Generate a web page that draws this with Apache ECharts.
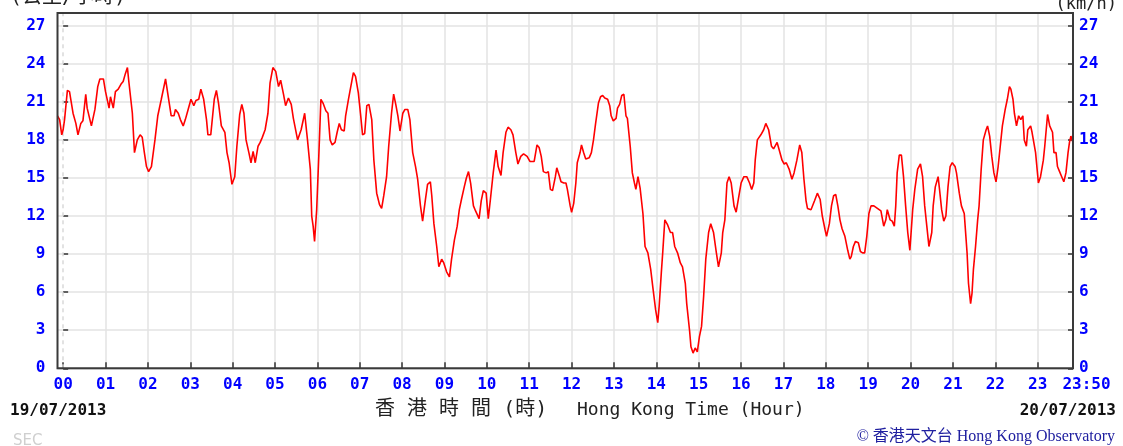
<!DOCTYPE html>
<html>
<head>
<meta charset="utf-8">
<script src="https://cdn.jsdelivr.net/npm/echarts@6/dist/echarts.min.js"></script>
<style>
html,body{margin:0;padding:0;background:#fff;}
#chart{width:1123px;height:446px;}
</style>
</head>
<body>
<div id="chart"></div>
<script>
// Hour tick labels of the x axis and the end label
const tickLabels = ['00','01','02','03','04','05','06','07','08','09','10','11','12','13','14','15','16','17','18','19','20','21','22','23'];
const endLabel = '23:50';
// Time of each reading, minutes after 00:00 (negative = before midnight)
const times = [
  -8,-5,-2,0,2,6,9,14,18,21,25,28,32,34,40,45,49,52,57,
  60,65,67,71,74,78,82,85,88,91,93,98,101,105,109,112,115,118,
  121,125,130,134,139,145,148,153,157,159,163,166,170,173,177,
  181,185,188,192,195,199,203,205,209,214,217,220,224,229,232,235,239,
  243,246,250,253,256,259,263,266,269,272,276,279,282,286,290,293,297,
  301,305,308,312,315,319,323,326,332,337,342,346,350,352,354,356,359,
  362,365,368,372,375,378,381,385,388,391,394,398,400,404,407,411,414,418,
  421,424,427,430,433,437,440,444,448,451,454,458,461,465,468,471,474,477,
  481,484,488,491,495,499,502,506,509,513,516,520,522,525,529,532,536,539,
  543,547,550,554,558,561,564,568,571,574,577,581,584,589,592,595,599,
  602,605,609,613,616,620,623,627,630,634,637,641,644,648,652,657,
  661,667,671,674,677,680,684,687,690,693,697,699,703,705,709,712,714,718,
  720,723,726,728,732,734,737,740,745,748,751,754,758,761,764,767,771,774,776,779,
  783,785,788,791,794,797,799,803,806,809,811,814,817,821,824,828,832,835,839,
  842,844,847,849,852,856,860,863,866,870,874,877,881,883,887,889,892,895,898,
  901,904,907,910,914,917,921,925,928,932,934,937,940,943,946,950,953,956,
  960,964,968,972,975,978,980,983,988,992,995,999,1003,1006,1011,1014,1018,
  1021,1024,1028,1032,1035,1039,1043,1046,1049,1052,1054,1059,1061,1064,1068,1072,1075,1079,
  1081,1085,1088,1091,1094,1097,1100,1103,1107,1111,1114,1116,1119,1122,1126,1129,1132,1135,1138,
  1141,1144,1148,1153,1158,1162,1165,1167,1171,1174,1177,1179,1181,1184,1187,1190,1193,1196,1199,
  1203,1206,1210,1214,1217,1220,1223,1226,1230,1232,1235,1239,1241,1244,1247,1250,1253,1256,1259,
  1263,1265,1269,1272,1276,1280,1282,1285,1287,1289,1292,1295,1297,1300,1303,1307,1309,1312,1315,1318,
  1321,1324,1327,1330,1334,1337,1340,1342,1345,1347,1350,1353,1356,1359,1361,1364,1366,1370,1372,1377,
  1381,1384,1388,1390,1394,1397,1401,1403,1406,1408,1411,1414,1417,1420,1423,1425,1427,1430
];
// Wind speed (km/h) at each reading
const speeds = [
  19.9,19.6,18.4,18.8,19.6,21.9,21.8,20.1,19.3,18.4,19.3,19.5,21.6,20.5,19.1,20.4,22.2,22.8,22.8,
  21.8,20.5,21.4,20.5,21.8,22.0,22.4,22.6,23.2,23.7,22.6,20.1,17.0,18.0,18.4,18.2,17.0,15.9,
  15.5,15.9,18.0,19.9,21.2,22.8,21.7,19.9,19.9,20.4,20.1,19.6,19.1,19.6,20.4,
  21.2,20.7,21.1,21.2,22.0,21.2,19.6,18.4,18.4,21.2,21.9,20.9,19.1,18.6,17.0,16.2,14.5,
  15.1,17.5,20.0,20.8,20.1,18.0,17.0,16.2,17.1,16.2,17.5,17.8,18.2,18.8,20.1,22.5,23.7,
  23.4,22.2,22.7,21.6,20.7,21.3,20.8,19.7,18.0,18.8,20.1,18.0,15.7,12.0,11.2,10.0,12.5,
  16.7,21.2,20.9,20.3,20.1,18.0,17.6,17.8,18.6,19.3,18.8,18.7,19.9,21.2,22.1,23.3,23.0,21.7,
  20.1,18.4,18.5,20.7,20.8,19.6,16.4,13.8,12.9,12.6,13.6,15.1,17.5,20.1,21.6,20.8,19.9,18.7,
  20.1,20.4,20.4,19.6,17.0,15.9,14.9,12.8,11.6,13.3,14.5,14.7,13.6,11.4,9.6,8.0,8.6,8.3,
  7.6,7.2,8.6,10.1,11.2,12.5,13.3,14.3,15.0,15.5,14.6,12.8,12.4,11.8,13.2,14.0,13.8,
  11.8,13.3,15.4,17.2,15.9,15.2,17.0,18.6,19.0,18.8,18.4,17.0,16.1,16.7,16.9,16.7,
  16.3,16.3,17.6,17.4,16.7,15.5,15.4,15.5,14.1,14.0,15.1,15.8,15.1,14.7,14.6,14.6,14.1,12.8,
  12.3,13.0,14.6,16.2,17.0,17.6,17.0,16.5,16.6,17.0,18.0,19.3,20.9,21.4,21.5,21.3,21.2,20.7,19.9,19.5,
  19.7,20.5,20.8,21.5,21.6,19.9,19.7,17.5,15.4,14.6,14.1,15.1,14.2,12.2,9.6,9.1,7.8,6.4,4.6,
  3.6,4.9,7.5,9.1,11.7,11.3,10.7,10.7,9.6,9.1,8.3,8.0,6.7,5.1,3.0,1.7,1.2,1.6,1.3,
  2.5,3.3,5.7,8.6,10.7,11.4,10.7,9.1,8.0,9.1,10.7,11.7,14.6,15.1,14.6,12.8,12.3,13.3,
  14.6,15.1,15.1,14.6,14.1,14.6,16.4,18.0,18.4,18.8,19.3,18.8,17.5,17.3,17.8,17.2,16.4,
  16.1,16.2,15.7,14.9,15.4,16.4,17.6,17.0,14.9,13.2,12.6,12.5,12.4,13.2,13.8,13.3,12.0,10.9,
  10.4,11.4,12.8,13.6,13.7,12.8,11.7,11.0,10.4,9.3,8.6,8.8,9.6,10.0,9.9,9.2,9.1,9.1,10.4,
  12.2,12.8,12.8,12.6,12.4,11.2,11.7,12.5,11.7,11.6,11.2,12.8,15.4,16.8,16.8,15.1,12.8,10.7,9.3,
  12.5,14.1,15.7,16.1,15.1,12.8,11.2,9.6,10.7,12.8,14.3,15.1,14.1,12.5,11.6,12.0,14.3,15.9,16.2,
  15.9,15.4,13.8,12.8,12.2,9.1,6.7,5.1,5.9,7.8,9.6,11.7,12.8,15.7,18.0,18.8,19.1,18.3,16.7,15.4,
  14.7,15.9,17.5,19.1,20.4,21.2,22.2,22.0,21.2,20.1,19.1,19.9,19.6,19.9,18.0,17.5,18.8,19.1,18.6,17.0,
  14.6,15.1,16.4,17.5,20.0,19.1,18.6,17.0,17.0,15.9,15.5,15.1,14.7,15.4,17.0,17.8,18.3,17.8
];
if (times.length !== speeds.length) console.error('length mismatch', times.length, speeds.length);

const xStart = -8, xEnd = 1430;
const minuteCats = [];
for (let m = xStart; m <= xEnd; m++) minuteCats.push(String(m));

const chart = echarts.init(document.getElementById('chart'), null, {renderer: 'canvas'});
const labelFont = {color: '#0000ff', fontFamily: '"DejaVu Sans Mono", monospace', fontWeight: 'bold'};
const dashStyle = {type: [4, 4], color: '#d9d9d9', width: 1.5};

chart.setOption({
  animation: false,
  backgroundColor: '#fff',
  grid: {left: 57.5, right: 50, top: 13, bottom: 77.7, show: true, borderColor: '#3a3a3a', borderWidth: 2, backgroundColor: 'transparent', z: 5},
  xAxis: [
    {
      type: 'category', data: minuteCats, boundaryGap: false,
      axisLine: {show: false},
      axisTick: {show: true, inside: true, length: 6, interval: (i, v) => (+v) % 60 === 0, lineStyle: {color: '#333', width: 1.5}},
      axisLabel: Object.assign({}, labelFont, {
        fontSize: 16, margin: 9,
        interval: (i, v) => (+v) % 60 === 0 || +v === xEnd,
        formatter: (v) => (+v === xEnd ? '{e|' + endLabel + '}' : tickLabels[(+v) / 60]),
        rich: {e: Object.assign({}, labelFont, {fontSize: 16, padding: [0, 0, 0, 27]})}
      }),
      splitLine: {show: true, interval: (i, v) => (+v) % 60 === 0 && +v !== 0, lineStyle: {color: '#e3e3e3', width: 1.5}}
    },
    {type: 'value', min: xStart, max: xEnd, show: false}
  ],
  yAxis: [
    {
      type: 'value', position: 'left', min: 0, max: 28, interval: 3,
      axisLine: {show: false},
      axisTick: {show: true, inside: true, length: 5, lineStyle: {color: '#333', width: 1.5}},
      axisLabel: Object.assign({}, labelFont, {fontSize: 16, margin: 12, showMaxLabel: false}),
      splitLine: {show: true, lineStyle: {color: '#e3e3e3', width: 1.5}}
    },
    {
      type: 'value', position: 'right', min: 0, max: 28, interval: 3,
      axisLine: {show: false},
      axisTick: {show: true, inside: true, length: 5, lineStyle: {color: '#333', width: 1.5}},
      axisLabel: Object.assign({}, labelFont, {fontSize: 16, margin: 6, showMaxLabel: false}),
      splitLine: {show: false}
    }
  ],
  series: [{
    type: 'line', xAxisIndex: 1, yAxisIndex: 0,
    data: times.map((t, i) => [t, speeds[i]]),
    showSymbol: false, smooth: false,
    lineStyle: {color: '#ff0000', width: 1.6},
    markLine: {
      silent: true, symbol: 'none', label: {show: false},
      z: 1,
      lineStyle: dashStyle,
      emphasis: {disabled: true},
      data: [{xAxis: 0, lineStyle: dashStyle}]
    }
  }],
  graphic: [
    {type: 'text', style: {text: '(公里/小時)', x: 10, y: 8, font: '20px "DejaVu Sans Mono", "Noto Sans CJK TC"', fill: '#222', align: 'left', verticalAlign: 'bottom'}},
    {type: 'text', style: {text: '(km/h)', x: 1117, y: 13, font: '17px "DejaVu Sans Mono"', fill: '#222', align: 'right', verticalAlign: 'bottom'}},
    {type: 'text', style: {text: '19/07/2013', x: 10, y: 411, font: 'bold 16px "DejaVu Sans Mono"', fill: '#111', align: 'left', verticalAlign: 'middle'}},
    {type: 'text', style: {text: '20/07/2013', x: 1116, y: 411, font: 'bold 16px "DejaVu Sans Mono"', fill: '#111', align: 'right', verticalAlign: 'middle'}},
    {type: 'text', style: {text: '香 港 時 間 (時)', x: 375, y: 410, font: '20px "DejaVu Sans Mono", "Noto Sans CJK TC"', fill: '#222', align: 'left', verticalAlign: 'middle'}},
    {type: 'text', style: {text: 'Hong Kong Time (Hour)', x: 577, y: 410, font: '18px "DejaVu Sans Mono"', fill: '#222', align: 'left', verticalAlign: 'middle'}},
    {type: 'text', style: {text: 'SEC', x: 13, y: 434, font: '15px "DejaVu Sans"', fill: '#cfcfcf', align: 'left', verticalAlign: 'top'}},
    {type: 'text', style: {text: '© 香港天文台 Hong Kong Observatory', x: 1115, y: 437, font: '16px "Liberation Serif", "Noto Sans CJK TC"', fill: '#2020a0', align: 'right', verticalAlign: 'middle'}}
  ]
});
</script>
</body>
</html>
